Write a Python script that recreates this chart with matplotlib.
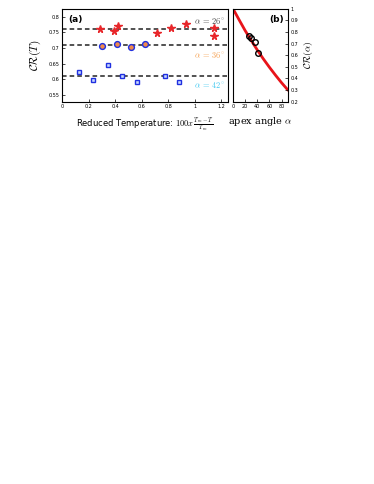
import matplotlib
matplotlib.use('Agg')
import matplotlib.pyplot as plt
import numpy as np

plt.rcParams['mathtext.fontset'] = 'cm'

# panel (a) data
star_x = [0.282, 0.389, 0.423, 0.714, 0.823, 0.931, 1.147, 1.147]
star_y = [0.762, 0.756, 0.769, 0.749, 0.765, 0.776, 0.765, 0.738]
circ_x = [0.304, 0.410, 0.521, 0.623]
circ_y = [0.705, 0.712, 0.703, 0.712]
sq_x = [0.125, 0.236, 0.344, 0.453, 0.561, 0.774, 0.880]
sq_y = [0.622, 0.597, 0.646, 0.610, 0.590, 0.610, 0.590]
mean_levels = [0.761, 0.709, 0.609]

# panel (b) data
alpha_curve = [0, 10, 20, 30, 40, 50, 60, 70, 80, 90]
cr_curve = [1.0, 0.905, 0.812, 0.727, 0.645, 0.568, 0.496, 0.428, 0.363, 0.303]
alpha_pts = [26, 29, 36, 42]
cr_pts = [0.768, 0.752, 0.715, 0.615]

fig = plt.figure(figsize=(3.74, 4.84), dpi=100)

ax = fig.add_axes([0.166, 0.790, 0.444, 0.192])
for lv in mean_levels:
    ax.axhline(lv, color='#222222', ls=(0, (3, 2)), lw=1.1, zorder=1)
ax.plot(star_x, star_y, ls='none', marker='*', ms=5.5, color='#e8262a', mec='#e8262a', zorder=3)
ax.plot(circ_x, circ_y, ls='none', marker='o', ms=4.2, mfc='#f08a4b', mec='#2030e0', mew=1.0, zorder=3)
ax.plot(sq_x, sq_y, ls='none', marker='s', ms=3.3, mfc='#c8d8ff', mec='#2030e0', mew=1.0, zorder=3)
ax.set_xlim(0, 1.25)
ax.set_ylim(0.528, 0.826)
ax.set_xticks([0, 0.2, 0.4, 0.6, 0.8, 1, 1.2])
ax.set_xticklabels(['0', '0.2', '0.4', '0.6', '0.8', '1', '1.2'])
ax.set_yticks([0.55, 0.6, 0.65, 0.7, 0.75, 0.8])
ax.set_yticklabels(['0.55', '0.6', '0.65', '0.7', '0.75', '0.8'])
ax.tick_params(labelsize=3.5, length=2, width=0.5, direction='in', pad=2)
ax.set_ylabel(r'$\mathcal{CR}(T)$', fontsize=8, labelpad=4)
ax.set_xlabel(r'Reduced Temperature: $\mathit{100x}\,\frac{T_m-T}{T_m}$', fontsize=6, labelpad=4)
ax.text(0.04, 0.88, '(a)', transform=ax.transAxes, fontsize=6.5, fontweight='bold', va='center')
ax.text(0.985, 0.87, r'$\alpha\,=\,26^\circ$', transform=ax.transAxes, fontsize=6, color='#444444', ha='right', va='center')
ax.text(0.985, 0.50, r'$\alpha\,=\,36^\circ$', transform=ax.transAxes, fontsize=6, color='#f5a050', ha='right', va='center')
ax.text(0.985, 0.18, r'$\alpha\,=\,42^\circ$', transform=ax.transAxes, fontsize=6, color='#40c8f0', ha='right', va='center')
for s in ax.spines.values():
    s.set_linewidth(0.8)

bx = fig.add_axes([0.623, 0.790, 0.146, 0.192])
bx.plot(alpha_curve, cr_curve, color='#e8141a', lw=2.0, zorder=1)
bx.plot(alpha_pts, cr_pts, ls='none', marker='o', ms=4, mfc='none', mec='black', mew=1.0, zorder=2)
bx.set_xlim(0, 90)
bx.set_ylim(0.2, 1.0)
bx.set_xticks([0, 20, 40, 60, 80])
bx.set_yticks([0.2, 0.3, 0.4, 0.5, 0.6, 0.7, 0.8, 0.9, 1.0])
bx.set_yticklabels(['0.2', '0.3', '0.4', '0.5', '0.6', '0.7', '0.8', '0.9', '1'])
bx.yaxis.tick_right()
bx.yaxis.set_label_position('right')
bx.tick_params(labelsize=3.5, length=2, width=0.5, direction='in', pad=2)
bx.set_ylabel(r'$\mathcal{CR}(\alpha)$', fontsize=7, labelpad=3)
bx.set_xlabel(r'apex angle $\alpha$', fontsize=7, family='serif', labelpad=4)
bx.text(0.93, 0.88, '(b)', transform=bx.transAxes, fontsize=6.5, fontweight='bold', ha='right', va='center')
for s in bx.spines.values():
    s.set_linewidth(0.8)

fig.savefig('out.png', dpi=100)
